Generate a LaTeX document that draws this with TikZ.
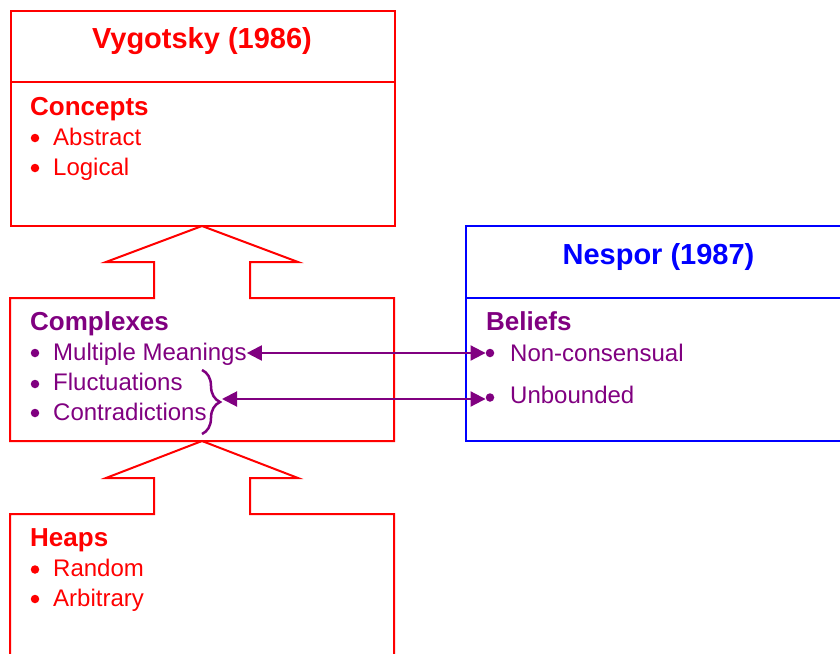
\documentclass[tikz,border=0pt]{standalone}
\usepackage{fontspec}
\setmainfont{Liberation Sans}
\usetikzlibrary{arrows.meta,decorations.pathreplacing}
\definecolor{vred}{RGB}{255,0,0}
\definecolor{nblue}{RGB}{0,0,255}
\definecolor{purp}{RGB}{128,0,128}
\begin{document}
\begin{tikzpicture}[x=1pt,y=-1pt,
  redline/.style={draw=vred,line width=2pt,line join=miter},
  blueline/.style={draw=nblue,line width=2pt},
  ttl/.style={font=\fontsize{29}{34}\selectfont\bfseries,anchor=base,inner sep=0},
  head/.style={font=\fontsize{26}{31}\selectfont\bfseries,anchor=base west,inner sep=0},
  itm/.style={font=\fontsize{24}{29}\selectfont,anchor=base west,inner sep=0},
  dot/.style={circle,fill,inner sep=0,minimum size=8.5pt},
  link/.style={draw=purp,line width=2pt,{Triangle[length=15pt,width=15pt]}-{Triangle[length=15pt,width=15pt]}},
]
\useasboundingbox (0,0) rectangle (840,653);
% Vygotsky box
\node[redline,anchor=north west,inner sep=0,minimum width=384pt,minimum height=215pt] (vyg) at (10,10) {};
\draw[redline] (10,82) -- (394,82);
\node[ttl,text=vred] (vygt) at (202,48) {Vygotsky (1986)};
\node[head,text=vred] (conc) at (30,115) {Concepts};
\node[dot,fill=vred] (cb1) at (35,138) {};
\node[itm,text=vred] (abs) at (53,145) {Abstract};
\node[dot,fill=vred] (cb2) at (35,168) {};
\node[itm,text=vred] (log) at (53,175) {Logical};
% Complexes box with block arrow
\draw[redline] (10,298) -- (154,298) -- (154,262) -- (106,262) -- (202,226) -- (298,262) -- (250,262) -- (250,298) -- (394,298) -- (394,441) -- (10,441) -- cycle;
\node[head,text=purp] (cplx) at (30,330) {Complexes};
\node[dot,fill=purp] (xb1) at (35,353) {};
\node[itm,text=purp] (mm) at (53,360) {Multiple Meanings};
\node[dot,fill=purp] (xb2) at (35,384) {};
\node[itm,text=purp] (fl) at (53,390.5) {Fluctuations};
\node[dot,fill=purp] (xb3) at (35,413) {};
\node[itm,text=purp] (ct) at (53,420) {Contradictions};
\draw[purp,line width=2.5pt,decorate,decoration={brace,amplitude=18pt}] (202,370) -- (202,434);
\coordinate (brtip) at (222,399);
% Heaps box with block arrow
\draw[redline] (10,665) -- (10,514) -- (154,514) -- (154,478) -- (106,478) -- (202,441) -- (298,478) -- (250,478) -- (250,514) -- (394,514) -- (394,665);
\node[head,text=vred] (heap) at (30,546.5) {Heaps};
\node[dot,fill=vred] (hb1) at (35,569.5) {};
\node[itm,text=vred] (rnd) at (53,576.5) {Random};
\node[dot,fill=vred] (hb2) at (35,599) {};
\node[itm,text=vred] (arb) at (53,606) {Arbitrary};
% Nespor box
\draw[blueline] (860,226) -- (466,226) -- (466,441) -- (860,441);
\draw[blueline] (466,298) -- (860,298);
\node[ttl,text=nblue] (nesp) at (658.5,264) {Nespor (1987)};
\node[head,text=purp] (bel) at (486,330) {Beliefs};
\node[dot,fill=purp] (nb1) at (490,353) {};
\node[itm,text=purp] (nc) at (510,361.5) {Non-consensual};
\node[dot,fill=purp] (nb2) at (490,397.5) {};
\node[itm,text=purp] (ub) at (510,403.5) {Unbounded};
% links
\draw[link] (nb1.west -| mm.east) -- (nb1.west);
\draw[link] (brtip) -- (nb2.west |- brtip);
\end{tikzpicture}
\end{document}
